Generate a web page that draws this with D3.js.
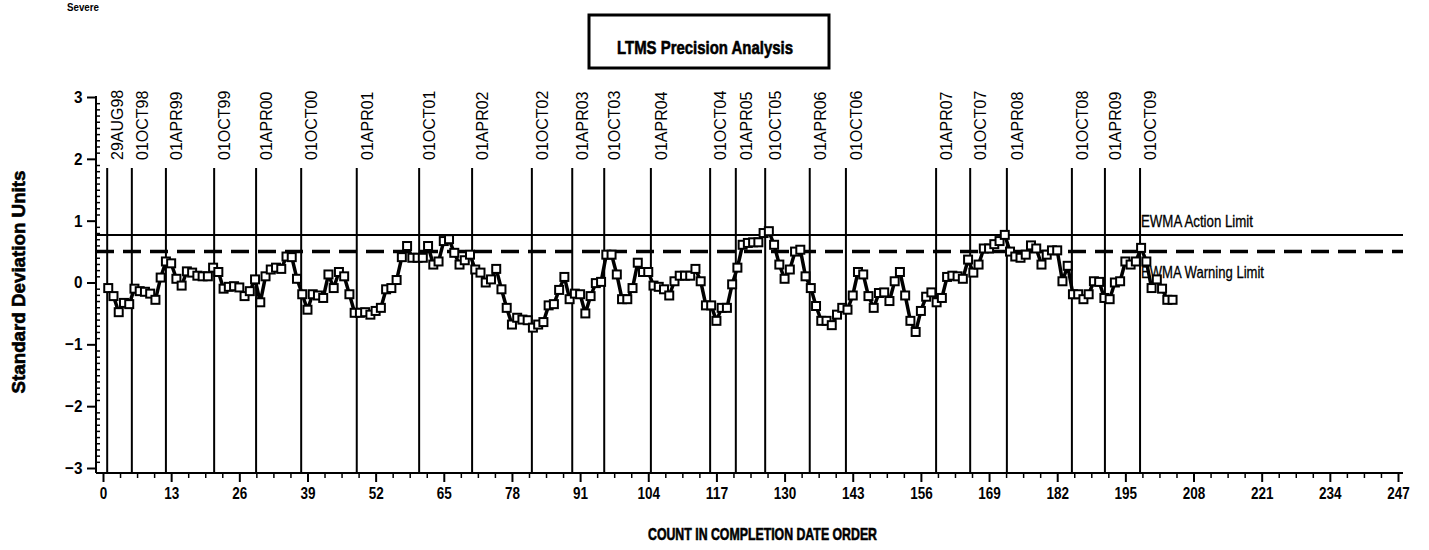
<!DOCTYPE html>
<html>
<head>
<meta charset="utf-8">
<script src="https://cdn.jsdelivr.net/npm/d3@7"></script>
<style>
  body { margin: 0; background: #fff; }
  svg { display: block; }
  text { font-family: "Liberation Sans", Arial, sans-serif; fill: #000; }
  .heavy { font-weight: bold; stroke: #000; stroke-width: 0.6; }
</style>
</head>
<body>
<svg id="chart" width="1429" height="550"></svg>
<script>
// EWMA values in standard deviation units, in completion order (count 1..204)
var ewmaValues = [
  -0.09, -0.22, -0.48, -0.33, -0.35, -0.10, -0.14, -0.15, -0.18, -0.28,
   0.08,  0.34,  0.31,  0.06, -0.05,  0.18,  0.16,  0.11,  0.10,  0.10,
   0.24,  0.17, -0.10, -0.07, -0.06, -0.08, -0.22, -0.14,  0.05, -0.32,
   0.10,  0.21,  0.24,  0.22,  0.42,  0.41,  0.06, -0.19, -0.44, -0.19,
  -0.21, -0.25,  0.13, -0.09,  0.17,  0.10, -0.19, -0.49, -0.49, -0.48,
  -0.52, -0.46, -0.41, -0.11, -0.09,  0.04,  0.41,  0.59,  0.40,  0.40,
   0.40,  0.59,  0.29,  0.34,  0.67,  0.70,  0.48,  0.29,  0.36,  0.45,
   0.21,  0.16,  0.00,  0.05,  0.22, -0.11, -0.41, -0.68, -0.57, -0.60,
  -0.61, -0.73, -0.68, -0.64, -0.37, -0.35, -0.12,  0.09, -0.27, -0.18,
  -0.19, -0.50, -0.22, -0.01,  0.01,  0.45,  0.45,  0.13, -0.27, -0.27,
  -0.09,  0.32,  0.17,  0.17, -0.05, -0.07, -0.11, -0.21,  0.02,  0.11,
   0.11,  0.11,  0.22,  0.02, -0.37, -0.37, -0.62, -0.41, -0.41, -0.03,
   0.24,  0.61,  0.64,  0.65,  0.65,  0.80,  0.83,  0.61,  0.29,  0.06,
   0.21,  0.50,  0.53,  0.10, -0.09, -0.38, -0.62, -0.62, -0.69, -0.52,
  -0.41, -0.44, -0.21,  0.17,  0.13, -0.22, -0.41, -0.17, -0.16, -0.30,
   0.02,  0.17, -0.21, -0.62, -0.80, -0.46, -0.23, -0.16, -0.32, -0.25,
   0.09,  0.11,  0.10,  0.06,  0.37,  0.16,  0.29,  0.55,  0.55,  0.62,
   0.67,  0.77,  0.50,  0.42,  0.40,  0.45,  0.60,  0.55,  0.29,  0.45,
   0.52,  0.52,  0.02,  0.27, -0.19, -0.19, -0.27, -0.19,  0.02,  0.01,
  -0.25, -0.27,  0.00,  0.02,  0.34,  0.29,  0.34,  0.56,  0.34, -0.09,
   0.05, -0.10, -0.28, -0.28
];

// reference dates, placed at their count position
var dateLabels = ['29AUG98', '01OCT98', '01APR99', '01OCT99', '01APR00', '01OCT00',
  '01APR01', '01OCT01', '01APR02', '01OCT02', '01APR03', '01OCT03', '01APR04',
  '01OCT04', '01APR05', '01OCT05', '01APR06', '01OCT06', '01APR07', '01OCT07',
  '01APR08', '01OCT08', '01APR09', '01OCT09'];
var dateCounts = [0.8, 5.5, 12.0, 21.2, 29.2, 37.8, 48.4, 60.3, 70.4, 81.8, 89.5, 95.6,
  104.5, 115.8, 120.7, 126.3, 134.8, 141.7, 158.9, 165.4, 172.4, 184.8, 191.1, 197.8];

var xTicks = [0, 13, 26, 39, 52, 65, 78, 91, 104, 117, 130, 143, 156, 169, 182, 195, 208, 221, 234, 247];
var yTicks = [-3, -2, -1, 0, 1, 2, 3];

var actionLimit = 0.77,
    warningLimit = 0.50;

var svg = d3.select('#chart');

var x = d3.scaleLinear().domain([0, 247]).range([103, 1398]);
var y = d3.scaleLinear().domain([-3, 3]).range([468, 97]);

var axisLeftX = 96,
    axisBottomY = 473;

// condensed text helper: squeeze to the width seen in the picture
function squeeze(sel, w) {
    return sel.attr('textLength', w).attr('lengthAdjust', 'spacingAndGlyphs');
}

// top left note
squeeze(svg.append('text')
    .attr('x', 67).attr('y', 11)
    .attr('font-size', 10).attr('font-weight', 'bold')
    .text('Severe'), 32);

// title box
svg.append('rect')
    .attr('x', 589).attr('y', 15)
    .attr('width', 240).attr('height', 53)
    .attr('fill', 'none').attr('stroke', '#000').attr('stroke-width', 3);
squeeze(svg.append('text')
    .attr('class', 'heavy')
    .attr('x', 617).attr('y', 54)
    .attr('font-size', 19)
    .text('LTMS Precision Analysis'), 176);

// y axis
var yAxis = d3.axisLeft(y).tickValues(yTicks).tickSize(9).tickPadding(5)
    .tickFormat(function(d) { return d < 0 ? '\u2212' + Math.abs(d) : d; });
var gy = svg.append('g').attr('transform', 'translate(' + axisLeftX + ',0)').call(yAxis);
gy.select('.domain').remove();
gy.selectAll('.tick line').attr('stroke-width', 2);
gy.selectAll('.tick text')
    .attr('font-size', 17).attr('font-weight', 'bold')
    .attr('transform', 'scale(0.9,1)')
    .attr('x', -15);

var yMinor = d3.range(-30, 31).map(function(d) { return d / 10; })
    .filter(function(d) { return Math.abs(d % 1) > 1e-9; });
var gyMinor = svg.append('g').attr('transform', 'translate(' + axisLeftX + ',0)')
    .call(d3.axisRight(y).tickValues(yMinor).tickSize(4).tickFormat(''));
gyMinor.select('.domain').remove();
gyMinor.selectAll('.tick line').attr('stroke-width', 1.5);

svg.append('line')
    .attr('x1', axisLeftX).attr('x2', axisLeftX)
    .attr('y1', y(3) - 1).attr('y2', axisBottomY)
    .attr('stroke', '#000').attr('stroke-width', 2);

// x axis
var xAxis = d3.axisBottom(x).tickValues(xTicks).tickSize(9).tickPadding(6)
    .tickFormat(d3.format('d'));
var gx = svg.append('g').attr('transform', 'translate(0,' + axisBottomY + ')').call(xAxis);
gx.select('.domain').remove();
gx.selectAll('.tick line').attr('stroke-width', 2);
gx.selectAll('.tick text')
    .attr('font-size', 16).attr('font-weight', 'bold');
gx.selectAll('.tick text').each(function() {
    var t = d3.select(this);
    squeeze(t, t.text().length * 7.5);
});

var xMinor = d3.range(0, 248, 3.25).filter(function(d) { return d % 13 !== 0; });
var gxMinor = svg.append('g').attr('transform', 'translate(0,' + axisBottomY + ')')
    .call(d3.axisBottom(x).tickValues(xMinor).tickSize(5).tickFormat(''));
gxMinor.select('.domain').remove();
gxMinor.selectAll('.tick line').attr('stroke-width', 1.5);

svg.append('line')
    .attr('x1', axisLeftX).attr('x2', 1403)
    .attr('y1', axisBottomY).attr('y2', axisBottomY)
    .attr('stroke', '#000').attr('stroke-width', 2);

// axis titles
squeeze(svg.append('text')
    .attr('class', 'heavy')
    .attr('transform', 'translate(25,' + (y(0) + 111) + ') rotate(-90)')
    .attr('font-size', 18)
    .text('Standard Deviation Units'), 223);

squeeze(svg.append('text')
    .attr('class', 'heavy')
    .attr('x', 648).attr('y', 540)
    .attr('font-size', 17)
    .text('COUNT IN COMPLETION DATE ORDER'), 229);

// date reference lines
var dates = svg.append('g').selectAll('g')
    .data(dateCounts.map(function(c, i) { return { count: c, label: dateLabels[i] }; }))
    .enter().append('g');

dates.append('line')
    .attr('x1', function(d) { return x(d.count); })
    .attr('x2', function(d) { return x(d.count); })
    .attr('y1', 168).attr('y2', axisBottomY)
    .attr('stroke', '#000').attr('stroke-width', 2);

dates.append('text')
    .attr('transform', function(d) {
        return 'translate(' + (x(d.count) + 16) + ',160) rotate(-90)';
    })
    .attr('font-size', 16)
    .text(function(d) { return d.label; });

// limit lines
svg.append('line')
    .attr('x1', axisLeftX).attr('x2', 1403)
    .attr('y1', y(actionLimit)).attr('y2', y(actionLimit))
    .attr('stroke', '#000').attr('stroke-width', 2);
svg.append('line')
    .attr('x1', axisLeftX).attr('x2', 1403)
    .attr('y1', y(warningLimit)).attr('y2', y(warningLimit))
    .attr('stroke', '#000').attr('stroke-width', 3.5)
    .attr('stroke-dasharray', '18,9');

squeeze(svg.append('text')
    .attr('x', 1141).attr('y', y(actionLimit) - 8)
    .attr('font-size', 16)
    .attr('stroke', '#000').attr('stroke-width', 0.3)
    .text('EWMA Action Limit'), 112);
squeeze(svg.append('text')
    .attr('x', 1141).attr('y', y(warningLimit) + 26)
    .attr('font-size', 16)
    .attr('stroke', '#000').attr('stroke-width', 0.3)
    .text('EWMA Warning Limit'), 123);

// EWMA series
var line = d3.line()
    .x(function(d, i) { return x(i + 1); })
    .y(function(d) { return y(d); });

svg.append('path')
    .datum(ewmaValues)
    .attr('d', line)
    .attr('fill', 'none')
    .attr('stroke', '#000')
    .attr('stroke-width', 3.5)
    .attr('stroke-linejoin', 'round');

svg.append('g').selectAll('rect')
    .data(ewmaValues)
    .enter().append('rect')
        .attr('x', function(d, i) { return x(i + 1) - 4; })
        .attr('y', function(d) { return y(d) - 4; })
        .attr('width', 8)
        .attr('height', 8)
        .attr('fill', '#fff')
        .attr('stroke', '#000')
        .attr('stroke-width', 2);
</script>
</body>
</html>
